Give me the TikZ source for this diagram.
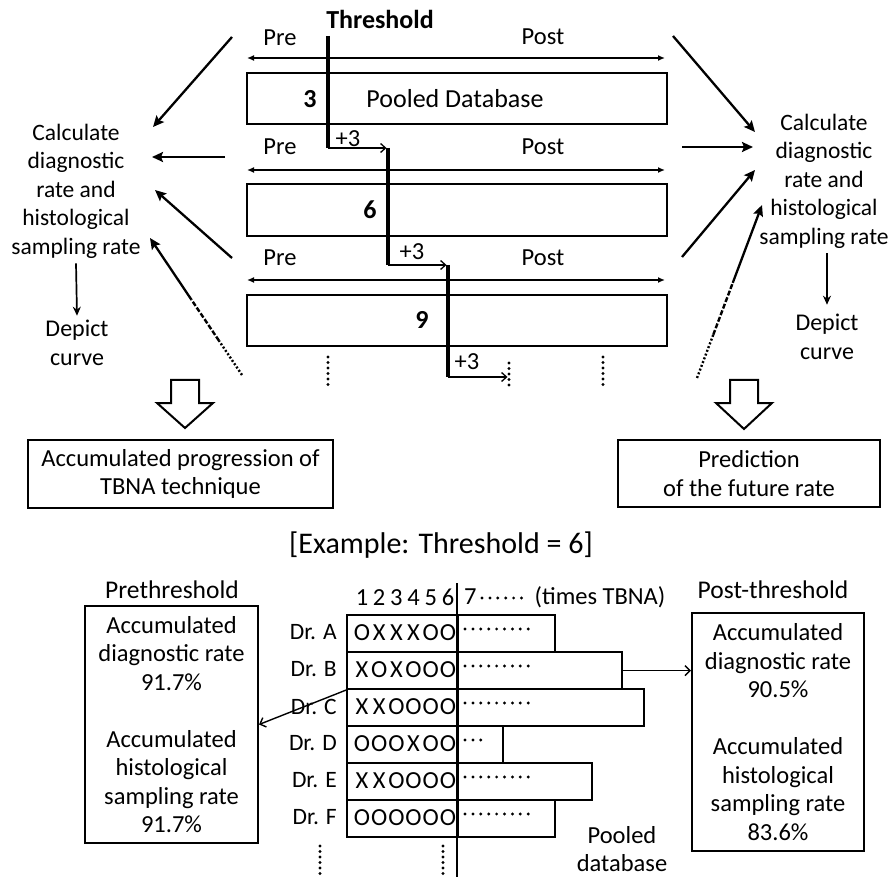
\documentclass[tikz,border=0pt]{standalone}
\usepackage{fontspec}
\setmainfont{Carlito}
\usetikzlibrary{arrows.meta,calc}
\newcommand\cellrow[6]{\makebox[17.2pt]{#1}\makebox[17.2pt]{#2}\makebox[17.2pt]{#3}\makebox[17.2pt]{#4}\makebox[17.2pt]{#5}\makebox[17.2pt]{#6}}
\begin{document}
\begin{tikzpicture}[x=1pt,y=-1pt,
  txt/.style={font=\fontsize{24.5}{28.5}\selectfont, inner sep=0pt, align=center},
  bnum/.style={font=\fontsize{26}{30}\selectfont\bfseries, inner sep=0pt},
  boxfr/.style={draw, line width=2.1pt, inner sep=0pt},
  thrline/.style={line width=3.2pt},
  plusarr/.style={line width=1.3pt, shorten >=1.5pt, -{Straight Barb[length=5pt,width=9pt]}},
  prepost/.style={line width=1.8pt, {Latex[length=7pt,width=6pt]}-{Latex[length=7pt,width=6pt]}},
  bigarr/.style={line width=2.3pt, -{Stealth[length=11pt,width=10pt,inset=2pt]}},
  smallarr/.style={line width=1.7pt, -{Stealth[length=9pt,width=8pt]}},
  dotv/.style={line width=3.2pt, line cap=round, dash pattern=on 0pt off 5.5pt},
  rowdots/.style={line width=3.2pt, line cap=round, dash pattern=on 0pt off 7.9pt},
  hollowarr/.style={draw, line width=2pt, fill=white, line join=miter},
  thinarr/.style={line width=1.4pt, -{Straight Barb[length=5pt,width=10pt]}},
  cellbox/.style={draw, line width=2.1pt, inner sep=0pt, minimum height=37pt, anchor=north west},
  sidetxt/.style={txt, font=\fontsize{23.5}{28.5}\selectfont},
]
\useasboundingbox (0,0) rectangle (892,877);

% ---------- top part ----------
\node[font=\fontsize{26}{30}\selectfont\bfseries, inner sep=0pt] (thrlab) at (380,19) {Threshold};

\node[boxfr, minimum width=420pt, minimum height=51pt] (box1) at (457,98.5) {};
\node[boxfr, minimum width=420pt, minimum height=52pt] (box2) at (457,210) {};
\node[boxfr, minimum width=420pt, minimum height=51pt] (box3) at (457,320.5) {};

\node[bnum] (n3) at (310,99) {3};
\node[txt, font=\fontsize{26}{30}\selectfont] (pooled) at (455,99) {Pooled Database};
\node[bnum] (n6) at (370,210) {6};
\node[bnum] (n9) at (422,320) {9};

\node[txt] (pre1) at (280,38) {Pre};
\node[txt] (post1) at (543,37) {Post};
\node[txt] (pre2) at (280,147) {Pre};
\node[txt] (post2) at (543,147) {Post};
\node[txt] (pre3) at (280,258) {Pre};
\node[txt] (post3) at (543,258) {Post};

\coordinate (pa1l) at (247,58);  \coordinate (pa1r) at (665,58);
\coordinate (pa2l) at (247,170); \coordinate (pa2r) at (665,170);
\coordinate (pa3l) at (247,280); \coordinate (pa3r) at (665,280);
\draw[prepost] (pa1l) -- (pa1r);
\draw[prepost] (pa2l) -- (pa2r);
\draw[prepost] (pa3l) -- (pa3r);

% threshold staircase
\coordinate (t1a) at (328,36);  \coordinate (t1b) at (328,148);
\coordinate (t2a) at (388,148); \coordinate (t2b) at (388,265);
\coordinate (t3a) at (448,265); \coordinate (t3b) at (448,377);
\coordinate (t4) at (509,377);
\draw[thrline] (t1a) -- (t1b);
\draw[plusarr] (t1b) -- (t2a);
\draw[thrline] (t2a) -- (t2b);
\draw[plusarr] (t2b) -- (t3a);
\draw[thrline] (t3a) -- (t3b);
\draw[plusarr] (t3b) -- (t4);
\node[txt] (plus1) at (348,139) {+3};
\node[txt] (plus2) at (412,252) {+3};
\node[txt] (plus3) at (467,362) {+3};

% dotted continuation
\coordinate (dv1a) at (328,357); \coordinate (dv1b) at (328,387);
\coordinate (dv2a) at (509,363); \coordinate (dv2b) at (509,387);
\coordinate (dv3a) at (603,357); \coordinate (dv3b) at (603,387);
\draw[dotv] (dv1a) -- (dv1b);
\draw[dotv] (dv2a) -- (dv2b);
\draw[dotv] (dv3a) -- (dv3b);

% side texts
\node[sidetxt] (calcL) at (76,191) {Calculate\\diagnostic\\rate and\\histological\\sampling rate};
\node[sidetxt, font=\fontsize{24}{29.5}\selectfont] (depL) at (77,343) {Depict\\curve};
\node[sidetxt] (calcR) at (824,181) {Calculate\\diagnostic\\rate and\\histological\\sampling rate};
\node[sidetxt, font=\fontsize{24}{29.5}\selectfont] (depR) at (827,337) {Depict\\curve};
\draw[smallarr] ([yshift=-5pt]calcL.south) -- ([yshift=4pt]depL.north);
\draw[smallarr] ([yshift=-5pt]calcR.south -| depR.north) -- ([yshift=9pt]depR.north);

% left arrows
\coordinate (la1s) at (232,37);  \coordinate (la1e) at (153,127);
\coordinate (la2s) at (225,157); \coordinate (la2e) at (152,157);
\coordinate (la3s) at (232,258); \coordinate (la3e) at (155,190);
\coordinate (la4s) at (242,375); \coordinate (la4e) at (150,238);
\draw[bigarr] (la1s) -- (la1e);
\draw[bigarr] (la2s) -- (la2e);
\draw[bigarr] (la3s) -- (la3e);
\draw[line width=2.4pt, dash pattern=on 2pt off 2pt] (la4s) -- ($(la4s)!0.25!(la4e)$);
\draw[line width=2.4pt, dash pattern=on 5pt off 2pt] ($(la4s)!0.25!(la4e)$) -- ($(la4s)!0.55!(la4e)$);
\draw[bigarr] ($(la4s)!0.55!(la4e)$) -- (la4e);

% right arrows
\coordinate (ra1s) at (673,36);  \coordinate (ra1e) at (755,132);
\coordinate (ra2s) at (682,147); \coordinate (ra2e) at (753,147);
\coordinate (ra3s) at (682,257); \coordinate (ra3e) at (755,170);
\coordinate (ra4s) at (697,378); \coordinate (ra4e) at (762,205);
\draw[bigarr] (ra1s) -- (ra1e);
\draw[bigarr] (ra2s) -- (ra2e);
\draw[bigarr] (ra3s) -- (ra3e);
\draw[line width=2.4pt, dash pattern=on 2pt off 2pt] (ra4s) -- ($(ra4s)!0.25!(ra4e)$);
\draw[line width=2.4pt, dash pattern=on 5pt off 2pt] ($(ra4s)!0.25!(ra4e)$) -- ($(ra4s)!0.55!(ra4e)$);
\draw[bigarr] ($(ra4s)!0.55!(ra4e)$) -- (ra4e);

% hollow block arrows
\draw[hollowarr] (171,380) -- (199,380) -- (199,403) -- (213,403) -- (185,428) -- (157,403) -- (171,403) -- cycle;
\draw[hollowarr] (730,380) -- (758,380) -- (758,403) -- (772,403) -- (744,429) -- (716,403) -- (730,403) -- cycle;

% result boxes
\node[boxfr, txt, minimum width=305pt, minimum height=68pt] (accbox) at (180.5,474) {Accumulated progression of\\TBNA technique};
\node[boxfr, txt, minimum width=262pt, minimum height=67pt] (predbox) at (749,473.5) {Prediction\\of the future rate};

% ---------- example ----------
\node[font=\fontsize{30}{36}\selectfont, inner sep=0pt] (example) at (441,545) {[Example: Threshold = 6]};

\node[txt, font=\fontsize{25.5}{30}\selectfont] (prethr) at (172,590) {Prethreshold};
\node[txt, font=\fontsize{25.5}{30}\selectfont] (postthr) at (773,590) {Post-threshold};

\node[boxfr, txt, minimum width=173pt, minimum height=237pt] (prebox) at (171.5,724.5)
  {Accumulated\\diagnostic rate\\91.7\%\\[28.5pt]Accumulated\\histological\\sampling rate\\91.7\%};
\node[boxfr, txt, minimum width=172pt, minimum height=238pt] (postbox) at (778,732)
  {Accumulated\\diagnostic rate\\90.5\%\\[28.5pt]Accumulated\\histological\\sampling rate\\83.6\%};

% header
\node[txt] (digits) at (405,597) {\cellrow 123456};
\node[txt, anchor=west] (seven) at (464,597) {7};
\draw[rowdots] (482,598) -- (523,598);
\node[txt] (times) at (600,597) {(times TBNA)};

% table rows
\node[cellbox, minimum width=111pt] (cellA) at (346,614) {};
\node[cellbox, minimum width=97pt]  (barA)  at (457,614) {};
\node[cellbox, minimum width=111pt] (cellB) at (346,651) {};
\node[cellbox, minimum width=164pt] (barB)  at (457,651) {};
\node[cellbox, minimum width=111pt] (cellC) at (346,688) {};
\node[cellbox, minimum width=186pt] (barC)  at (457,688) {};
\node[cellbox, minimum width=111pt] (cellD) at (346,725) {};
\node[cellbox, minimum width=45pt]  (barD)  at (457,725) {};
\node[cellbox, minimum width=111pt] (cellE) at (346,762) {};
\node[cellbox, minimum width=134pt] (barE)  at (457,762) {};
\node[cellbox, minimum width=111pt] (cellF) at (346,799) {};
\node[cellbox, minimum width=97pt]  (barF)  at (457,799) {};

\node[txt] (codeA) at (405,632.5) {\cellrow OXXXOO};
\node[txt] (codeB) at (405,669.5) {\cellrow XOXOOO};
\node[txt] (codeC) at (405,706.5) {\cellrow XXOOOO};
\node[txt] (codeD) at (405,743.5) {\cellrow OOOXOO};
\node[txt] (codeE) at (405,780.5) {\cellrow XXOOOO};
\node[txt] (codeF) at (405,817.5) {\cellrow OOOOOO};

\node[txt, font=\fontsize{23.5}{28}\selectfont, anchor=east] (drA) at (337,632.5) {Dr. A};
\node[txt, font=\fontsize{23.5}{28}\selectfont, anchor=east] (drB) at (337,669.5) {Dr. B};
\node[txt, font=\fontsize{23.5}{28}\selectfont, anchor=east] (drC) at (337,706.5) {Dr. C};
\node[txt, font=\fontsize{23.5}{28}\selectfont, anchor=east] (drD) at (337,743.5) {Dr. D};
\node[txt, font=\fontsize{23.5}{28}\selectfont, anchor=east] (drE) at (337,780.5) {Dr. E};
\node[txt, font=\fontsize{23.5}{28}\selectfont, anchor=east] (drF) at (337,817.5) {Dr. F};

\foreach \y in {629,666,703,777,814} { \draw[rowdots] (465,\y) -- (529,\y); }
\draw[rowdots] (465,740) -- (482,740);

% threshold line (example)
\coordinate (bt1) at (457,583); \coordinate (bt2) at (457,877);
\draw[line width=2.4pt] (bt1) -- (bt2);

% dotted continuation
\coordinate (bd1a) at (320,846); \coordinate (bd1b) at (320,877);
\coordinate (bd2a) at (443,846); \coordinate (bd2b) at (443,877);
\draw[dotv] (bd1a) -- (bd1b);
\draw[dotv] (bd2a) -- (bd2b);

\node[txt] (pdb) at (622,849) {Pooled\\database};

% result arrows
\draw[thinarr] (barB.east) -- (postbox.west |- barB.east);
\draw[thinarr] (cellB.south west) -- (prebox.east);
\end{tikzpicture}
\end{document}
